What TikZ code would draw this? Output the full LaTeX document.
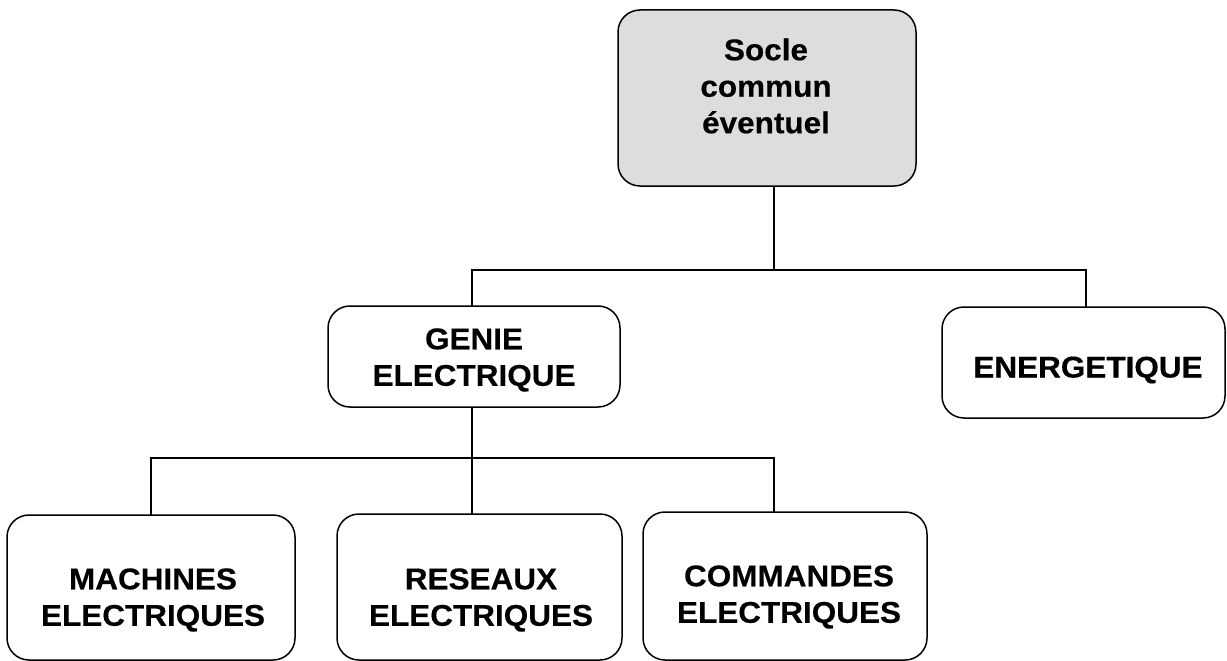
\documentclass[tikz,border=0pt]{standalone}
\usepackage{fontspec}
\setmainfont{Liberation Sans}[FakeStretch=1.05,BoldFeatures={FakeBold=0.4}]
\begin{document}
\begin{tikzpicture}[x=1pt,y=-1pt,
  box/.style={draw=black,line width=1.5pt,rounded corners=22pt,inner sep=0pt,outer sep=0pt,fill=white},
  lbl/.style={align=center,inner sep=0pt,font=\fontsize{30}{36.5}\selectfont\bfseries},
  conn/.style={draw=black,line width=1.5pt}]
\useasboundingbox (0,0) rectangle (1227,661);
% boxes
\node[box,fill={rgb,255:red,221;green,221;blue,221},minimum width=298pt,minimum height=176pt] (socle) at (767,98) {};
\node[box,minimum width=292pt,minimum height=101pt] (genie) at (474,356.5) {};
\node[box,minimum width=283pt,minimum height=111pt] (energ) at (1083.5,362.5) {};
\node[box,minimum width=288pt,minimum height=145pt] (mach) at (151,587.5) {};
\node[box,minimum width=285pt,minimum height=146pt] (res) at (479.5,587) {};
\node[box,minimum width=284pt,minimum height=148pt] (com) at (785,586) {};
% labels
\node[lbl] (socle-t) at (766,86) {Socle\\commun\\éventuel};
\node[lbl] (genie-t) at (474,360) {GENIE\\ELECTRIQUE};
\node[lbl] (energ-t) at (1088,370) {ENERGETIQUE};
\node[lbl] (mach-t) at (153,600) {MACHINES\\ELECTRIQUES};
\node[lbl] (res-t) at (481,600) {RESEAUX\\ELECTRIQUES};
\node[lbl] (com-t) at (789,597) {COMMANDES\\ELECTRIQUES};
% bus coordinates
\coordinate (j1) at (774,270);
\coordinate (b1L) at (472,270);
\coordinate (b1R) at (1086,270);
\coordinate (j2) at (472,458);
\coordinate (b2L) at (151,458);
\coordinate (b2M) at (472,458);
\coordinate (b2R) at (774,458);
% connectors
\draw[conn] (socle.south -| j1) -- (j1);
\draw[conn] (b1L |- genie.north) -- (b1L) -- (b1R) -- (b1R |- energ.north);
\draw[conn] (genie.south -| j2) -- (j2);
\draw[conn] (b2L |- mach.north) -- (b2L) -- (b2R) -- (b2R |- com.north);
\draw[conn] (b2M) -- (b2M |- res.north);
\end{tikzpicture}
\end{document}
